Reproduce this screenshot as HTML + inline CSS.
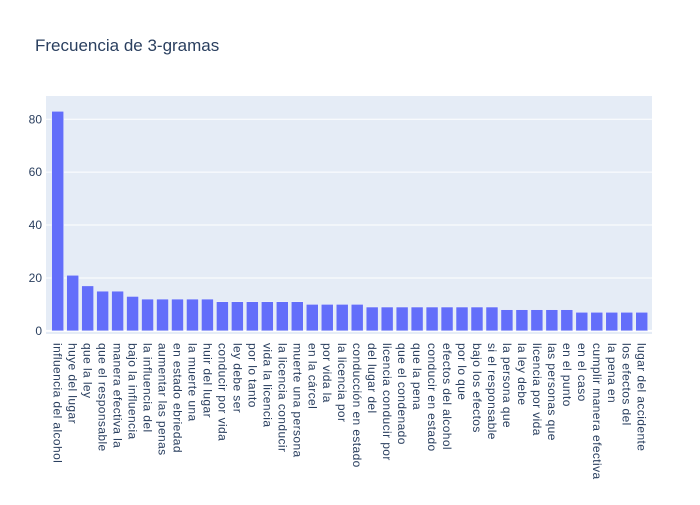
<!DOCTYPE html>
<html><head><meta charset="utf-8"><style>
body{margin:0;background:#fff;}
svg text{font-family:"Liberation Sans","DejaVu Sans",sans-serif;fill:#2a3f5f;}
</style></head><body>
<svg id="c" width="700" height="500">
<rect width="700" height="500" fill="#fff"/>
<text x="35" y="51" font-size="17">Frecuencia de 3-gramas</text>
</svg>
<script>
const categories=["influencia del alcohol","huye del lugar","que la ley","que el responsable","manera efectiva la","bajo la influencia","la influencia del","aumentar las penas","en estado ebriedad","la muerte una","huir del lugar","conducir por vida","ley debe ser","por lo tanto","vida la licencia","la licencia conducir","muerte una persona","en la cárcel","por vida la","la licencia por","conducción en estado","del lugar del","licencia conducir por","que el condenado","que la pena","conducir en estado","efectos del alcohol","por lo que","bajo los efectos","si el responsable","la persona que","la ley debe","licencia por vida","las personas que","en el punto","en el caso","cumplir manera efectiva","la pena en","los efectos del","lugar del accidente"];
const values=[83,21,17,15,15,13,12,12,12,12,12,11,11,11,11,11,11,10,10,10,10,9,9,9,9,9,9,9,9,9,8,8,8,8,8,7,7,7,7,7];
const yTicks=[0,20,40,60,80];
const svg=document.getElementById('c');
const NS='http://www.w3.org/2000/svg';
const L=46,R=652,T=96,B=334,yMin=-1.2,yMax=88.8;
const BL=50.2,BR=646.2+3;
const y=v=>B-(v-yMin)/(yMax-yMin)*(B-T);
const bw=(BR-BL)/categories.length;
const x=i=>BL+i*bw;
function mk(t,a,p){const e=document.createElementNS(NS,t);for(const k in a)e.setAttribute(k,a[k]);(p||svg).appendChild(e);return e;}
const bg=mk('rect',{x:L,y:T,width:R-L,height:B-T,fill:'#e5ecf6'});


yTicks.forEach(t=>{
  if(t>0){const g=mk('line',{x1:L,x2:R,y1:y(t),y2:y(t),stroke:'#fff','stroke-width':1});
  
  }
  const tx=mk('text',{x:L-4,y:y(t)+4,'font-size':12,'text-anchor':'end'});
  tx.textContent=t;
  
  
});
const zl=mk('line',{x1:L,x2:R,y1:y(0),y2:y(0),stroke:'#fff','stroke-width':2});


values.forEach((v,i)=>{
  const w=bw*0.8;
  const r=mk('rect',{x:x(i)+bw*0.1,y:y(v),width:w,height:y(0)-y(v),fill:'#636efa',stroke:'#f0f3fa','stroke-width':0.5});
  
  
  const cx=x(i)+bw/2-4;
  const t=mk('text',{x:cx,y:343,'font-size':12,'letter-spacing':0.4,transform:`rotate(90 ${cx} 343)`});
  t.textContent=categories[i];
  
  
});
</script>
</body></html>
